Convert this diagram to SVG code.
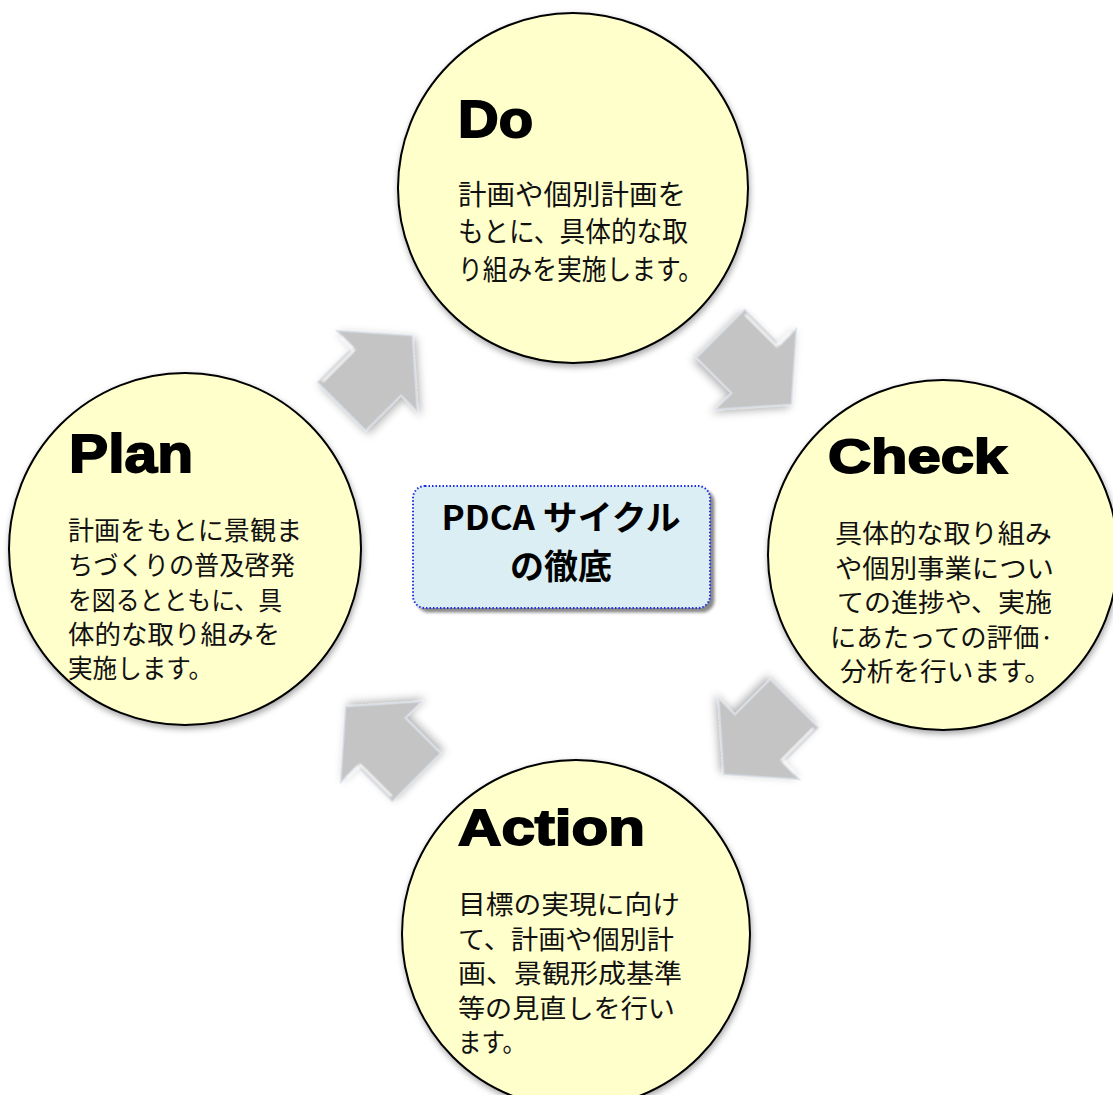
<svg xmlns="http://www.w3.org/2000/svg" width="1113" height="1095" viewBox="0 0 1113 1095">
<defs>
  <filter id="shadow" x="-20%" y="-20%" width="140%" height="140%">
    <feDropShadow dx="1" dy="3" stdDeviation="3" flood-color="#000" flood-opacity="0.35"/>
  </filter>
  <filter id="ashadow" x="-30%" y="-30%" width="160%" height="160%">
    <feDropShadow dx="0" dy="4" stdDeviation="4" flood-color="#000" flood-opacity="0.3"/>
  </filter>
  <filter id="boxshadow" x="-10%" y="-10%" width="120%" height="130%">
    <feDropShadow dx="4" dy="4" stdDeviation="1.5" flood-color="#555" flood-opacity="0.7"/>
  </filter>
  <filter id="blur1"><feGaussianBlur stdDeviation="1"/></filter>
  <path id="arrow" d="M-50,-34 L0,-34 L0,-57 L50,0 L0,57 L0,34 L-50,34 Z"/>
</defs>
<style>
  .circle { fill: #FFFFCC; stroke: #000; stroke-width: 2; filter: url(#shadow); }
  .arrowshape { fill: #C4C4C4; stroke: #D8DEE6; stroke-width: 1.5; filter: url(#ashadow); }
  .hl { fill: none; stroke: #FFFFFF; stroke-width: 3; stroke-opacity: 0.85; filter: url(#blur1); }
  .title { font-family: "Liberation Sans", Arial, sans-serif; font-weight: 900; fill: #000; stroke: #000; stroke-width: 1.8; }
  .body { font-family: "Noto Sans CJK JP", "Noto Sans", sans-serif; fill: #111; }
  .center { font-family: "Noto Sans CJK JP", "Noto Sans", sans-serif; font-weight: bold; font-size: 34px; fill: #000; text-anchor: middle; }
</style>

<g id="connectors">
  <g id="arrow-plan-do" transform="translate(377,371) rotate(-45)">
    <use href="#arrow" class="arrowshape"/>
    <polyline class="hl" points="-46,-31 -2,-31 -2,-50"/>
  </g>
  <g id="arrow-do-check" transform="translate(756,369) rotate(45)">
    <use href="#arrow" class="arrowshape"/>
    <polyline class="hl" points="-46,-31 -2,-31 -2,-50"/>
  </g>
  <g id="arrow-check-action" transform="translate(759,739) rotate(135)">
    <use href="#arrow" class="arrowshape"/>
    <polyline class="hl" points="-46,-31 -2,-31 -2,-50"/>
  </g>
  <g id="arrow-action-plan" transform="translate(381,742) rotate(-135)">
    <use href="#arrow" class="arrowshape"/>
    <polyline class="hl" points="-46,-31 -2,-31 -2,-50"/>
  </g>
</g>

<g id="node-do">
  <circle class="circle" cx="573" cy="188" r="175"/>
  <text class="title" x="458" y="137" font-size="52" textLength="75" lengthAdjust="spacingAndGlyphs">Do</text>
  <g class="body" font-size="28">
    <text x="458" y="205" textLength="228" lengthAdjust="spacingAndGlyphs">計画や個別計画を</text>
    <text x="458" y="242" textLength="230" lengthAdjust="spacingAndGlyphs">もとに、具体的な取</text>
    <text x="458" y="280" textLength="245" lengthAdjust="spacingAndGlyphs">り組みを実施します。</text>
  </g>
</g>

<g id="node-plan">
  <circle class="circle" cx="185" cy="549" r="176"/>
  <text class="title" x="69" y="472" font-size="54" textLength="124" lengthAdjust="spacingAndGlyphs">Plan</text>
  <g class="body" font-size="26">
    <text x="68" y="540" textLength="234" lengthAdjust="spacingAndGlyphs">計画をもとに景観ま</text>
    <text x="68" y="575" textLength="227" lengthAdjust="spacingAndGlyphs">ちづくりの普及啓発</text>
    <text x="68" y="610" textLength="214" lengthAdjust="spacingAndGlyphs">を図るとともに、具</text>
    <text x="68" y="644" textLength="212" lengthAdjust="spacingAndGlyphs">体的な取り組みを</text>
    <text x="68" y="678" textLength="145" lengthAdjust="spacingAndGlyphs">実施します。</text>
  </g>
</g>

<g id="node-check">
  <circle class="circle" cx="943" cy="555" r="175"/>
  <text class="title" x="828" y="473" font-size="48" textLength="179" lengthAdjust="spacingAndGlyphs">Check</text>
  <g class="body" font-size="26">
    <text x="835" y="543" textLength="217" lengthAdjust="spacingAndGlyphs">具体的な取り組み</text>
    <text x="835" y="578" textLength="219" lengthAdjust="spacingAndGlyphs">や個別事業につい</text>
    <text x="837" y="612" textLength="215" lengthAdjust="spacingAndGlyphs">ての進捗や、実施</text>
    <text x="830" y="647" textLength="224" lengthAdjust="spacingAndGlyphs">にあたっての評価·</text>
    <text x="840" y="681" textLength="211" lengthAdjust="spacingAndGlyphs">分析を行います。</text>
  </g>
</g>

<g id="node-action">
  <circle class="circle" cx="576" cy="934" r="174"/>
  <text class="title" x="458" y="845" font-size="50" textLength="187" lengthAdjust="spacingAndGlyphs">Action</text>
  <g class="body" font-size="26">
    <text x="458" y="914" textLength="222" lengthAdjust="spacingAndGlyphs">目標の実現に向け</text>
    <text x="458" y="948.5" textLength="216" lengthAdjust="spacingAndGlyphs">て、計画や個別計</text>
    <text x="458" y="983" textLength="224" lengthAdjust="spacingAndGlyphs">画、景観形成基準</text>
    <text x="458" y="1017.5" textLength="217" lengthAdjust="spacingAndGlyphs">等の見直しを行い</text>
    <text x="458" y="1052" textLength="68" lengthAdjust="spacingAndGlyphs">ます。</text>
  </g>
</g>

<g id="node-center">
  <rect x="413" y="486" width="297" height="122" rx="12" ry="12" fill="#DAEEF3" stroke="#1F2FE0" stroke-width="2" stroke-dasharray="1.5 2" filter="url(#boxshadow)"/>
  <text class="center" x="561" y="530" textLength="239" lengthAdjust="spacingAndGlyphs">PDCA サイクル</text>
  <text class="center" x="561" y="579" font-size="36">の徹底</text>
</g>
</svg>
